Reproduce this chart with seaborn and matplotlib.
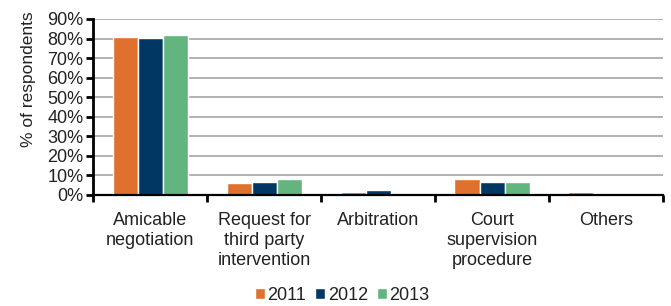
import pandas as pd
import numpy as np
import matplotlib.pyplot as plt
import seaborn as sns
from matplotlib.ticker import PercentFormatter, FixedLocator

# data
categories = ['Amicable\nnegotiation', 'Request for\nthird party\nintervention',
              'Arbitration', 'Court\nsupervision\nprocedure', 'Others']
years = ['2011', '2012', '2013']
vals_2011 = [81.0, 6.1, 1.4, 8.3, 1.4]
vals_2012 = [80.2, 6.6, 2.5, 6.6, 0.0]
vals_2013 = [81.7, 7.9, 0.0, 6.6, 0.0]
colors = ['#E0702E', '#003763', '#63B57F']

df = pd.DataFrame({
    'category': categories * 3,
    'year': np.repeat(years, len(categories)),
    'value': vals_2011 + vals_2012 + vals_2013,
})

sns.set_theme(style='white')
plt.rcParams['font.family'] = ['Liberation Sans', 'DejaVu Sans']
fs = 13
txt = '#222222'

fig, ax = plt.subplots(figsize=(6.71, 3.06), dpi=100)
fig.subplots_adjust(left=0.139, right=0.988, top=0.938, bottom=0.363)

sns.barplot(data=df, x='category', y='value', hue='year', palette=colors,
            width=0.66, saturation=1, ax=ax, legend=True)

ax.set_ylim(0, 90)
ax.set_xlim(-0.5, len(categories) - 0.5)
ax.yaxis.set_major_locator(FixedLocator(np.arange(0, 91, 10)))
ax.yaxis.set_major_formatter(PercentFormatter(decimals=0))
ax.yaxis.grid(True, color='#A6A6A6', linewidth=1.2)
ax.set_axisbelow(True)

for s in ['top', 'right']:
    ax.spines[s].set_visible(False)
ax.spines['left'].set_linewidth(2)
ax.spines['bottom'].set_linewidth(1.6)
for s in ['left', 'bottom']:
    ax.spines[s].set_color('black')

# ticks between categories, labels in the middle
ax.set_xticks(np.arange(-0.5, len(categories), 1.0))
ax.set_xticklabels([])
ax.set_xticks(np.arange(len(categories)), minor=True)
ax.set_xticklabels(categories, minor=True, fontsize=fs, color=txt, linespacing=1.25)
ax.tick_params(axis='x', which='major', length=5, width=2, direction='out', color='black', bottom=True)
ax.tick_params(axis='x', which='minor', length=0, pad=12)
ax.tick_params(axis='y', length=5, width=2, direction='out', color='black', left=True,
               labelsize=fs, labelcolor=txt, pad=2)

ax.set_xlabel('')
ax.set_ylabel('% of respondents', fontsize=12.5, color=txt)
ax.yaxis.set_label_coords(-0.1, 0.655)

handles, labels = ax.get_legend_handles_labels()
ax.get_legend().remove()
fig.legend(handles, labels, loc='lower center', bbox_to_anchor=(0.51, -0.045), ncol=3,
           frameon=False, fontsize=fs, handlelength=0.55, handleheight=0.55,
           handletextpad=0.15, columnspacing=0.5, labelcolor=txt)

plt.savefig('out.png', dpi=100)
